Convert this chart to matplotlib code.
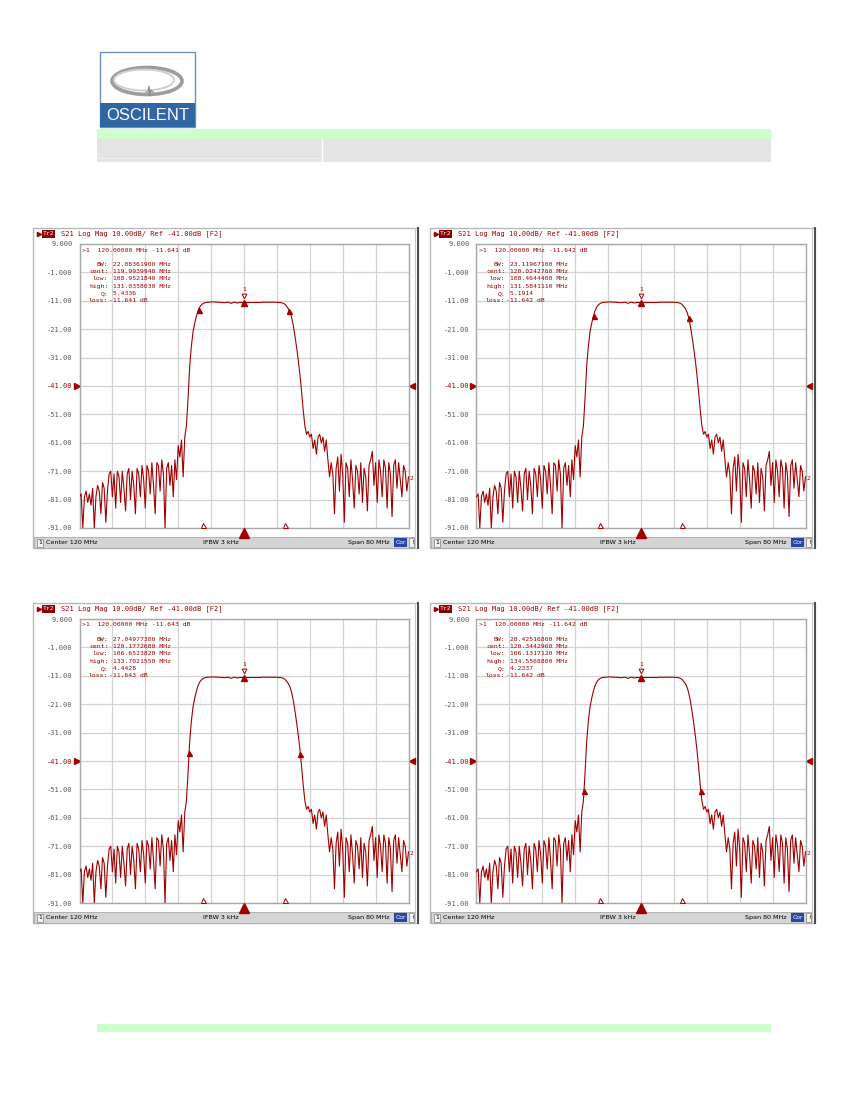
import numpy as np
import matplotlib.pyplot as plt
from matplotlib.patches import Rectangle, Ellipse
from matplotlib.transforms import offset_copy

# sweep: Center 120 MHz, Span 80 MHz, 201 points
start_mhz, stop_mhz, n_points = 80.0, 160.0, 201
freq_mhz = np.linspace(start_mhz, stop_mhz, n_points)

# S21 trace (dB), 0.4 MHz per point
s21_db = [
    # 80.0 - 103.6 MHz (lower stopband)
    -80, -79, -91, -80, -78, -82, -79, -83, -77, -91,
    -80, -76, -78, -86, -75, -77, -89, -78, -72, -71,
    -80, -72, -84, -71, -73, -82, -71, -77, -85, -72,
    -70, -81, -71, -76, -86, -70, -72, -80, -69, -74,
    -84, -69, -71, -79, -68, -76, -86, -68, -69, -78,
    -67, -72, -91, -70, -68, -76, -69, -80, -67, -74,
    # 104.0 - 110.4 MHz (lower skirt)
    -62, -66, -60, -73, -59, -55, -45, -34, -27, -22,
    -19, -16.5, -14.6, -13.3, -12.5, -12.0, -11.7,
    # 110.8 - 128.4 MHz (passband)
    -11.6, -11.5, -11.5, -11.4, -11.4, -11.4, -11.5, -11.5, -11.5, -11.6,
    -11.6, -11.7, -11.6, -11.5, -11.6, -11.9, -11.7, -11.5, -11.6, -11.8,
    -11.6, -11.6, -11.6, -11.6, -11.6, -11.6, -11.6, -11.6, -11.6, -11.6,
    -11.6, -11.6, -11.6, -11.6, -11.5, -11.5, -11.5, -11.5, -11.5, -11.5,
    -11.5, -11.5, -11.5, -11.5, -11.6,
    # 128.8 - 135.2 MHz (upper skirt)
    -11.6, -11.7, -11.9, -12.3, -13.0, -13.8, -15.0, -17.0, -19.8, -23.5,
    -27.5, -32, -37, -43, -49.5, -55, -58,
    # 135.6 - 160.0 MHz (upper stopband)
    -57, -59, -58, -63, -60, -65, -59, -58, -61, -59,
    -64, -60, -67, -73, -68, -72, -86, -70, -66, -78,
    -65, -72, -89, -68, -70, -80, -67, -74, -84, -69,
    -71, -79, -68, -82, -70, -73, -85, -69, -67, -64,
    -76, -68, -82, -67, -71, -80, -67, -70, -84, -68,
    -72, -87, -69, -67, -77, -68, -74, -80, -69, -71,
    -78, -73,
]

# marker readouts of the four screenshots
marker1_db = ['-11.641', '-11.642', '-11.643', '-11.642']
bw_mhz = ['22.08361900', '23.11967100', '27.04977300', '28.42516800']
cent_mhz = ['119.9939940', '120.0242760', '120.1772680', '120.3442960']
low_mhz = [108.9521840, 108.4644400, 106.6523820, 106.1317120]
high_mhz = [131.0358030, 131.5841110, 133.7021550, 134.5568800]
q_vals = ['5.4336', '5.1914', '4.4428', '4.2337']
loss_db = ['-11.641', '-11.642', '-11.643', '-11.642']

y_ticks = [9, -1, -11, -21, -31, -41, -51, -61, -71, -81, -91]
y_labels = ['9.000', '-1.000', '-11.00', '-21.00', '-31.00', '-41.00',
            '-51.00', '-61.00', '-71.00', '-81.00', '-91.00']
ref_level = -41
center_mhz = 120.0
stim_marks = [110.0, 130.0]

RED = '#a00000'
MONO = 'DejaVu Sans Mono'
W, H = 850, 1100

fig = plt.figure(figsize=(8.5, 11), dpi=100)
page = fig.add_axes([0, 0, 1, 1])
page.set_xlim(0, W)
page.set_ylim(H, 0)
page.axis('off')

# ---- page header: logo and bars
page.add_patch(Rectangle((100, 52), 95, 75, fc='white', ec='#7090b0', lw=1))
page.add_patch(Rectangle((100, 103), 95, 24, fc='#2f66a3', ec='none'))
page.add_patch(Ellipse((147, 81), 70, 27, fill=False, ec='#9c9c9c', lw=2.6))
page.add_patch(Ellipse((144, 80), 60, 21, fill=False, ec='#cfcfcf', lw=1.4))
page.plot([146, 148, 149, 150, 151, 153], [92, 92, 86, 96, 90, 92], color='#8a8a8a', lw=0.8)
page.text(147.5, 116, 'OSCILENT', color='white', fontsize=12,
          family='Liberation Sans', ha='center', va='center')
page.add_patch(Rectangle((97, 129), 674, 10, fc='#ccffcc', ec='none'))
page.add_patch(Rectangle((97, 139), 674, 23, fc='#e4e4e4', ec='none'))
page.plot([322, 322], [139, 162], color='white', lw=1)
page.plot([99, 320], [158, 158], color='#f0f0f0', lw=0.8)
page.add_patch(Rectangle((97, 1024), 674, 8, fc='#ccffcc', ec='none'))

panel_origin = [(33, 228), (430, 228), (33, 603), (430, 603)]
PW, PH = 385, 320
plot_l, plot_t, plot_w, plot_h = 46.5, 16, 329, 284


def draw_panel(k):
    ox, oy = panel_origin[k]
    # frame
    page.add_patch(Rectangle((ox, oy), PW, PH, fc='white', ec='#b8b8b8', lw=1))
    page.plot([ox + PW - 3, ox + PW - 3], [oy, oy + PH], color='#c8c8c8', lw=0.8)
    page.plot([ox + PW, ox + PW], [oy, oy + PH], color='#4a4a4a', lw=1.4)
    # header line
    page.plot(ox + 6.5, oy + 5.5, marker='>', ms=3, color=RED)
    page.add_patch(Rectangle((ox + 9.5, oy + 1.5), 13, 8, fc='#8b0000', ec='none'))
    page.text(ox + 16, oy + 5.6, 'Tr2', color='white', fontsize=4.6, family=MONO,
              ha='center', va='center')
    page.text(ox + 28.5, oy + 5.5, 'S21 Log Mag 10.00dB/ Ref -41.00dB [F2]',
              color=RED, fontsize=5, family=MONO, va='center')
    # status bar
    sy = oy + 309
    page.add_patch(Rectangle((ox + 1, sy), PW - 4, 11, fc='#d4d4d4', ec='#a8a8a8', lw=0.6))
    page.add_patch(Rectangle((ox + 4, sy + 1.5), 6, 8, fc='#f4f4f4', ec='#808080', lw=0.5))
    page.text(ox + 7, sy + 5.6, '1', fontsize=4.4, ha='center', va='center')
    page.text(ox + 13.5, sy + 5.6, 'Center 120 MHz', fontsize=4.6, va='center')
    page.text(ox + 188, sy + 5.6, 'IFBW 3 kHz', fontsize=4.6, va='center', ha='center')
    page.text(ox + 315, sy + 5.6, 'Span 80 MHz', fontsize=4.6, va='center')
    page.add_patch(Rectangle((ox + 361, sy + 1), 13.5, 9, fc='#2846a8', ec='none'))
    page.text(ox + 367.8, sy + 5.6, 'Cor', color='white', fontsize=4.4, ha='center', va='center')
    page.add_patch(Rectangle((ox + 376.5, sy + 1), 4.5, 9, fc='#f4f4f4', ec='#808080', lw=0.5))
    page.text(ox + 378.8, sy + 5.6, '!', fontsize=4.4, ha='center', va='center')

    # measurement plot
    ax = fig.add_axes([(ox + plot_l) / W, 1 - (oy + plot_t + plot_h) / H,
                       plot_w / W, plot_h / H])
    ax.set_xlim(start_mhz, stop_mhz)
    ax.set_ylim(y_ticks[-1], y_ticks[0])
    ax.set_xticks(np.linspace(start_mhz, stop_mhz, 11))
    ax.set_xticklabels([])
    ax.set_yticks(y_ticks)
    ax.set_yticklabels(y_labels, fontsize=5, family=MONO, color='#5a5a5a')
    ax.get_yticklabels()[y_ticks.index(ref_level)].set_color(RED)
    ax.tick_params(length=0, pad=5)
    ax.grid(True, color='#d2d2d2', lw=0.9)
    ax.set_axisbelow(True)
    for sp in ax.spines.values():
        sp.set_color('#a8a8a8')
        sp.set_linewidth(1)

    ax.plot(freq_mhz, s21_db, color=RED, lw=0.8, zorder=3)

    # bandwidth search markers
    for f in (low_mhz[k], high_mhz[k]):
        ax.plot(f, np.interp(f, freq_mhz, s21_db), marker='^', ms=3.6, color=RED, zorder=4)
    # marker 1 at center
    m1 = np.interp(center_mhz, freq_mhz, s21_db)
    ax.plot(center_mhz, m1, marker='^', ms=3.8, color=RED, zorder=4)
    ax.plot(center_mhz, m1 + 2.2, marker='v', ms=3.4, mfc='white', mec=RED, mew=0.7, zorder=4)
    ax.text(center_mhz, m1 + 4.6, '1', color=RED, fontsize=4.5, family=MONO,
            ha='center', va='center')
    # stimulus indicators on bottom edge
    for f in stim_marks:
        ax.plot(f, y_ticks[-1] + 0.9, marker='^', ms=3.6, mfc='white', mec=RED,
                mew=0.7, clip_on=False, zorder=5)
    ax.plot(center_mhz, y_ticks[-1] - 1.7, marker='^', ms=6.5, color=RED, clip_on=False, zorder=5)
    # reference level arrows
    ax.plot(start_mhz, ref_level, marker='>', ms=4, color=RED, clip_on=False,
            transform=offset_copy(ax.transData, fig=fig, x=-3, y=0, units='dots'))
    ax.plot(stop_mhz, ref_level, marker='<', ms=4, color=RED, clip_on=False,
            transform=offset_copy(ax.transData, fig=fig, x=3, y=0, units='dots'))
    ax.text(stop_mhz, s21_db[-1], '2', color=RED, fontsize=4.5, family=MONO, va='center',
            transform=offset_copy(ax.transData, fig=fig, x=1, y=-2, units='dots'))

    # marker readout
    tx = dict(color=RED, fontsize=4.6, family=MONO, va='center',
              transform=page.transData, zorder=6)
    ax.text(ox + 48.7, oy + 22, '>1  120.00000 MHz %s dB' % marker1_db[k], **tx)
    rows = [('BW:', ' %s MHz' % bw_mhz[k]),
            ('cent:', ' %s MHz' % cent_mhz[k]),
            ('low:', ' %.7f MHz' % low_mhz[k]),
            ('high:', ' %.7f MHz' % high_mhz[k]),
            ('Q:', ' %s' % q_vals[k]),
            ('loss:', '%s dB' % loss_db[k])]
    for i, (lab, val) in enumerate(rows):
        y = oy + 36.3 + i * 7.3
        ax.text(ox + 75.3, y, lab, ha='right', **tx)
        ax.text(ox + 76.3, y, val, ha='left', **tx)


for k in range(4):
    draw_panel(k)

fig.savefig('out.png', dpi=100)
